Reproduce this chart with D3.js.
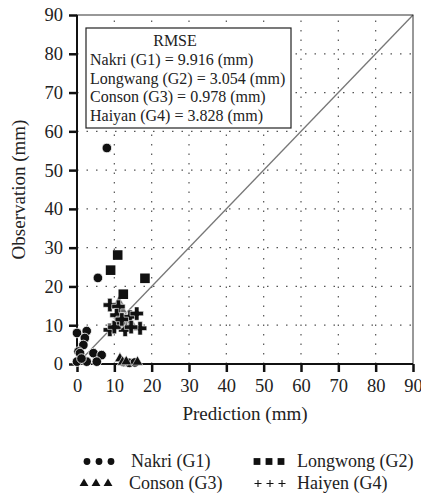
<!DOCTYPE html>
<html>
<head>
<meta charset="utf-8">
<title>scatter</title>
<style>
  body { margin: 0; background: #fff; }
  svg text { font-family: "Times New Roman", "Liberation Serif", "Tinos", "DejaVu Serif", serif; fill: #222; }
</style>
</head>
<body>
<script src="https://cdn.jsdelivr.net/npm/d3@7/dist/d3.min.js"></script>
<svg width="421" height="503" id="mainsvg"></svg>
<script>
// data: [prediction, observation] in mm
const nakri = [[8,55.7],[5.6,22.2],[0,8],[2.6,8.5],[2.1,6.7],[1.7,4.9],[0.4,3.2],[0.8,2.8],
  [4.4,2.8],[6.6,2.3],[0,0.6],[2.6,0.6],[5.3,0.6],[1.2,1.4],[12.5,0.5],[14,0.3],[15.5,0.4]];
const longwang = [[10.9,28.1],[9,24.2],[18.2,22.1],[12.4,18]];
const conson = [[11.5,1.4],[12.2,0.5],[13.2,0.6],[16.2,0.5],[11.2,16],[12,14],[11,12.5],[13,11],[12.2,10],[14.5,10.5]];
const haiyen = [[8.8,15.2],[11.1,14.8],[10.6,12.6],[14.2,12.2],[16,13],[8.8,8.8],[12.9,8.8],
  [16.9,9.2],[11.1,10.6],[10,9.5],[14.5,9.5],[12,11.5]];
const rmse = ["Nakri (G1) = 9.916 (mm)", "Longwang (G2) = 3.054 (mm)",
  "Conson (G3) = 0.978 (mm)", "Haiyan (G4) = 3.828 (mm)"];
const legendNames = ["Nakri (G1)", "Longwong (G2)", "Conson (G3)", "Haiyen (G4)"];
const ticks = d3.range(0, 91, 10);

const svg = d3.select('#mainsvg');
const x = d3.scaleLinear().domain([0, 90]).range([77, 413]);
const y = d3.scaleLinear().domain([0, 90]).range([364, 15]);

// dotted grid
const grid = svg.append("g").attr("stroke", "#555").attr("stroke-width", 1.2).attr("stroke-dasharray", "1.5,8");
grid.selectAll(".gx").data(ticks.slice(1, -1)).join("line")
  .attr("x1", d => x(d)).attr("x2", d => x(d)).attr("y1", y(0)).attr("y2", y(90));
grid.selectAll(".gy").data(ticks.slice(1, -1)).join("line")
  .attr("y1", d => y(d)).attr("y2", d => y(d)).attr("x1", x(0)).attr("x2", x(90));

// 1:1 line
svg.append("line").attr("x1", x(0)).attr("y1", y(0)).attr("x2", x(90)).attr("y2", y(90))
  .attr("stroke", "#777").attr("stroke-width", 1.3);

// frame
svg.append("rect").attr("x", x(0)).attr("y", y(90)).attr("width", x(90) - x(0)).attr("height", y(0) - y(90))
  .attr("fill", "none").attr("stroke", "#333").attr("stroke-width", 1);

const xAxis = svg.append("g").attr("transform", `translate(0,${y(0)})`)
  .call(d3.axisBottom(x).tickValues(ticks).tickSize(8).tickPadding(7));
const yAxis = svg.append("g").attr("transform", `translate(${x(0)},0)`)
  .call(d3.axisLeft(y).tickValues(ticks).tickSize(8).tickPadding(6));
[xAxis, yAxis].forEach(a => {
  a.attr("font-family", null).attr("font-size", null);
  a.select(".domain").attr("stroke", "#111").attr("stroke-width", 2);
  a.selectAll(".tick line").attr("stroke", "#111").attr("stroke-width", 2.5);
  a.selectAll(".tick text").attr("font-size", 18.5).attr("fill", "#222");
});
xAxis.select(".domain").attr("d", `M${x(0)},0H${x(90)}`);
yAxis.select(".domain").attr("d", `M0,${y(0)}V${y(90)}`);

svg.append("text").attr("x", x(45)).attr("y", 420).attr("text-anchor", "middle")
  .attr("font-size", 19).text("Prediction (mm)");
svg.append("text").attr("transform", `translate(25,${y(45)}) rotate(-90)`).attr("text-anchor", "middle")
  .attr("font-size", 19).text("Observation (mm)");

// marks
const pts = svg.append("g");
pts.selectAll(".c").data(nakri).join("circle")
  .attr("cx", d => x(d[0])).attr("cy", d => y(d[1])).attr("r", 4.8)
  .attr("fill", "#111").attr("stroke", "#fff").attr("stroke-width", 0.8);
pts.selectAll(".t").data(conson).join("path")
  .attr("d", d3.symbol().type(d3.symbolTriangle).size(50))
  .attr("transform", d => `translate(${x(d[0])},${y(d[1])})`)
  .attr("fill", (d, i) => i < 4 ? "#111" : "#666").attr("stroke", "#fff").attr("stroke-width", 0.6);
pts.selectAll(".s").data(longwang).join("rect")
  .attr("x", d => x(d[0]) - 4.8).attr("y", d => y(d[1]) - 4.8).attr("width", 9.6).attr("height", 9.6)
  .attr("fill", "#111");
pts.selectAll(".p").data(haiyen).join("path")
  .attr("d", d3.symbol().type(d3.symbolCross).size(100))
  .attr("transform", d => `translate(${x(d[0])},${y(d[1])})`)
  .attr("fill", "#111").attr("stroke", "#fff").attr("stroke-width", 0.6);

// RMSE box
const box = svg.append("g");
box.append("rect").attr("x", 86).attr("y", 28).attr("width", 205).attr("height", 100)
  .attr("fill", "#fff").attr("stroke", "#222").attr("stroke-width", 1.2);
box.append("text").attr("x", 175).attr("y", 46).attr("text-anchor", "middle").attr("font-size", 16).text("RMSE");
box.selectAll(".r").data(rmse).join("text")
  .attr("x", 90).attr("y", (d, i) => 65 + i * 18.5).attr("font-size", 16).text(d => d);

// bottom legend
const leg = svg.append("g");
const lx = [[87, 99, 111], [257, 269, 281], [84, 96, 108], [258, 270, 282]];
const tx = [131, 297, 129, 297], ly = [467, 489];
legendNames.forEach((name, i) => {
  const row = Math.floor(i / 2);
  const g = leg.append("g");
  lx[i].forEach(cx => {
    const cy = ly[row] - 5.5;
    if (i === 0) g.append("circle").attr("cx", cx).attr("cy", cy).attr("r", 3.4).attr("fill", "#111");
    else if (i === 1) g.append("rect").attr("x", cx - 3.4).attr("y", cy - 3.4).attr("width", 6.8).attr("height", 6.8).attr("fill", "#111");
    else if (i === 2) g.append("path").attr("d", d3.symbol().type(d3.symbolTriangle).size(34))
      .attr("transform", `translate(${cx},${cy})`).attr("fill", "#111");
    else g.append("path").attr("d", `M${cx - 3.5},${cy}H${cx + 3.5}M${cx},${cy - 3.5}V${cy + 3.5}`)
      .attr("stroke", "#111").attr("stroke-width", 1.1);
  });
  g.append("text").attr("x", tx[i]).attr("y", ly[row]).attr("font-size", 18).text(name);
});
</script>
</body>
</html>
